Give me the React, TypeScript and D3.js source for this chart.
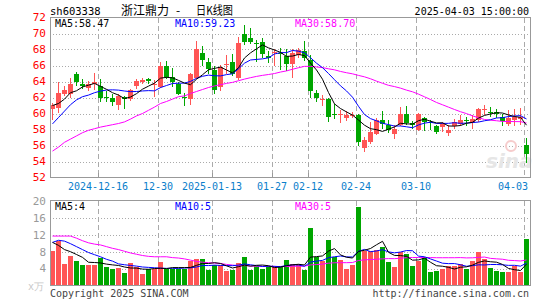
import React from 'react';
import * as d3 from 'd3';

const dates = [
  '2024-12-04','2024-12-05','2024-12-06','2024-12-09','2024-12-10','2024-12-11','2024-12-12','2024-12-13','2024-12-16','2024-12-17',
  '2024-12-18','2024-12-19','2024-12-20','2024-12-23','2024-12-24','2024-12-25','2024-12-26','2024-12-27','2024-12-30','2024-12-31',
  '2025-01-02','2025-01-03','2025-01-06','2025-01-07','2025-01-08','2025-01-09','2025-01-10','2025-01-13','2025-01-14','2025-01-15',
  '2025-01-16','2025-01-17','2025-01-20','2025-01-21','2025-01-22','2025-01-23','2025-01-24','2025-01-27','2025-02-05','2025-02-06',
  '2025-02-07','2025-02-10','2025-02-11','2025-02-12','2025-02-13','2025-02-14','2025-02-17','2025-02-18','2025-02-19','2025-02-20',
  '2025-02-21','2025-02-24','2025-02-25','2025-02-26','2025-02-27','2025-02-28','2025-03-03','2025-03-04','2025-03-05','2025-03-06',
  '2025-03-07','2025-03-10','2025-03-11','2025-03-12','2025-03-13','2025-03-14','2025-03-17','2025-03-18','2025-03-19','2025-03-20',
  '2025-03-21','2025-03-24','2025-03-25','2025-03-26','2025-03-27','2025-03-28','2025-03-31','2025-04-01','2025-04-02','2025-04-03',
];

const open = [
  60.6,60.7,62.5,62.5,64.9,63.7,63.2,63.7,63.5,62.1,
  62.0,61.1,62.1,61.8,63.5,64.0,64.3,63.6,63.3,66.0,
  64.6,63.7,62.1,61.8,64.5,67.6,66.4,65.4,63.3,66.1,
  66.5,64.5,69.9,69.4,68.8,69.0,67.2,67.6,67.6,67.2,
  66.2,67.3,67.8,66.7,62.6,61.7,61.8,60.0,59.8,59.4,
  59.7,59.8,55.7,56.5,57.4,59.2,58.6,57.4,58.6,60.0,
  58.8,57.9,59.5,59.0,58.4,58.3,57.6,58.4,58.7,59.2,
  58.8,59.2,60.5,60.2,60.2,59.6,58.7,59.2,59.3,56.1,
];
const high = [
  61.3,63.9,63.4,64.4,65.2,64.3,64.1,65.1,64.3,62.8,
  62.4,62.5,62.2,63.0,64.3,64.5,64.5,64.2,66.4,66.6,
  65.7,63.9,62.6,65.1,69.1,68.5,67.0,65.9,66.1,67.3,
  67.4,69.6,71.1,70.7,69.2,69.5,67.8,68.1,68.2,68.0,
  68.0,68.2,69.1,67.3,62.9,62.3,62.0,61.2,60.4,60.3,
  60.2,59.9,57.1,59.0,59.4,60.3,59.2,58.6,60.8,60.9,
  59.1,60.1,59.6,59.2,58.6,58.9,58.6,59.3,59.8,59.6,
  59.8,60.7,61.1,60.8,60.6,59.9,60.4,60.6,60.7,57.0,
];
const low = [
  59.2,60.1,62.2,62.0,63.5,63.1,62.8,62.9,61.4,61.4,
  61.0,60.4,60.5,61.6,63.1,63.7,63.7,62.1,63.2,64.3,
  63.3,62.3,60.9,61.1,64.3,66.0,64.9,62.5,62.8,65.0,
  64.7,64.2,68.6,68.7,66.5,67.0,66.3,66.0,65.4,65.3,
  64.4,67.0,66.6,62.0,61.5,61.0,59.0,59.3,58.8,59.1,
  59.4,55.9,55.2,56.2,57.3,58.1,57.6,56.8,58.4,58.6,
  58.1,57.8,57.8,58.0,57.5,57.7,57.2,58.1,58.4,58.5,
  58.1,59.0,59.8,59.6,59.5,58.4,58.4,58.4,58.6,53.8,
];
const close = [
  61.1,62.6,62.9,63.7,63.9,63.5,63.7,64.0,61.9,62.0,
  61.4,62.2,61.8,62.9,64.1,64.2,64.1,63.7,66.0,64.6,
  63.9,62.5,62.0,65.0,68.0,66.7,65.6,62.9,65.8,66.2,
  64.9,68.8,69.0,69.0,68.7,67.4,66.9,67.7,67.5,66.2,
  67.6,67.9,67.0,62.8,61.9,61.8,59.6,59.9,59.9,59.8,
  59.8,56.5,56.7,57.7,59.2,58.7,57.9,58.1,60.0,58.8,
  58.6,60.0,59.0,58.8,57.7,58.7,58.0,58.9,59.2,59.1,
  59.3,60.6,60.6,60.1,59.9,59.1,59.4,59.6,59.6,55.0,
];
// volume in 万手
const volume = [
  8.2,10.6,5.1,7.0,5.8,4.8,4.8,4.8,6.5,4.4,
  3.9,4.1,3.0,5.3,4.3,2.7,3.9,3.9,5.6,3.9,
  3.9,3.9,3.9,5.8,6.3,6.3,3.7,4.9,4.9,3.5,
  3.7,5.3,6.7,3.7,4.5,4.0,4.5,4.5,4.3,6.1,
  5.1,5.1,3.7,13.6,6.7,5.9,10.8,6.7,6.1,4.0,
  4.9,18.6,8.1,8.2,8.4,9.0,5.6,4.4,8.0,7.5,
  4.5,5.9,6.5,3.1,3.4,3.9,4.6,4.5,5.2,3.9,
  5.9,7.9,6.2,4.2,3.4,3.2,3.2,4.7,3.2,11.0,
];

// moving-average values at the start of the window (they depend on earlier sessions)
const ma5Head = [61.0, 61.25, 61.8, 62.6];
const ma10Head = [58.7, 59.5, 60.3, 61.1, 61.7, 62.1, 62.3, 62.6, 62.8];
const ma30Head = [55.3,55.8,56.4,56.8,57.2,57.6,57.9,58.1,58.3,58.45,58.6,58.75,58.95,59.3,59.7,60.0,60.4,60.8,61.25,61.5,61.8,62.1,62.2,62.5,62.75,63.0,63.25,63.45,63.6];
const vma5Head = [10.2, 9.5, 8.5, 8.0];
const vma10Head = [10.2, 10.7, 10.5, 9.9, 9.2, 8.5, 7.8, 7.3, 6.8];
const vma30Head = [11.7,11.7,11.7,11.7,11.2,10.6,10.1,9.8,9.6,9.2,8.8,8.5,8.1,7.7,7.4,7.1,6.9,6.8,6.8,6.8,6.6,6.5,6.3,6.0,5.7,5.5,5.4,5.3,5.2];

const priceTicks = [72, 70, 68, 66, 64, 62, 60, 58, 56, 54, 52];
const volTicks = [20, 16, 12, 8, 4];
const tickDates = ['2024-12-16','2024-12-30','2025-01-13','2025-01-27','2025-02-12','2025-02-24','2025-03-10','2025-04-03'];
const tickLabels = ['2024-12-16','12-30','2025-01-13','01-27','02-12','02-24','03-10','04-03'];
const volGridDates = ['2024-12-16','2024-12-30','2025-01-13','2025-01-27','2025-02-24','2025-03-10','2025-04-03'];

const titleCode = 'sh603338';
const titleName = '浙江鼎力';
const titleDash = '-';
const titleKind = '日K线图';
const titleTime = '2025-04-03 15:00:00';
const priceLegend = ['MA5:58.47', 'MA10:59.23', 'MA30:58.70'];
const volLegend = ['MA5:4', 'MA10:5', 'MA30:5'];

const RED = '#ff5555';
const GREEN = '#00a600';
const MONO = '"DejaVu Sans Mono", "Liberation Mono", monospace';
const CJK = '"Noto Sans CJK SC", sans-serif';

function movingAvg(vals: number[], n: number, head: number[]) {
  return vals.map((_, i) => (i < head.length ? head[i] : (d3.mean(vals.slice(i - n + 1, i + 1)) as number)));
}

export default function App() {
  const W = 545, H = 300;
  const L = 50, R = 530;
  const x = d3.scaleBand<string>().domain(dates).range([L, R]).padding(0);
  const bw = x.bandwidth() - 1;
  const y = d3.scaleLinear().domain([52, 72]).range([177.5, 17.5]);
  const yv = d3.scaleLinear().domain([0, 20]).range([285.5, 201]);

  const ma5 = movingAvg(close, 5, ma5Head);
  const ma10 = movingAvg(close, 10, ma10Head);
  const ma30 = movingAvg(close, 30, ma30Head);
  const vma5 = movingAvg(volume, 5, vma5Head);
  const vma10 = movingAvg(volume, 10, vma10Head);
  const vma30 = movingAvg(volume, 30, vma30Head);

  const cx = (i: number) => (x(dates[i]) as number) + bw / 2;
  const lineP = d3.line<number>().x((_, i) => cx(i)).y((d) => y(d));
  const lineV = d3.line<number>().x((_, i) => cx(i)).y((d) => yv(d));

  const gridX = tickDates.map((d) => Math.round(x(d) as number) + 0.5);
  const volGridX = volGridDates.map((d) => Math.round(x(d) as number) + 0.5);

  const legend = (txt: string, lx: number, ly: number, col: string, k: string) => (
    <g key={k}>
      <rect x={lx - 1} y={ly - 8} width={txt.length * 6.02 + 2} height={10} fill="#fff" />
      <text x={lx} y={ly} fontFamily={MONO} fontSize={10} fill={col}>{txt}</text>
    </g>
  );

  return (
    <svg width={W} height={H} style={{ display: 'block', position: 'absolute', left: 0, top: 0 }}>
      <rect x={0} y={0} width={W} height={H} fill="#fff" />
      {/* header */}
      <text x={50} y={15} fontFamily={MONO} fontSize={10.5} fill="#000">{titleCode}</text>
      <text x={121} y={15} fontFamily={CJK} fontSize={12} fill="#000">{titleName}</text>
      <text x={176} y={15} fontFamily={CJK} fontSize={12} fill="#000">{titleDash}</text>
      <text x={196} y={15} fontFamily={CJK} fontSize={12} fill="#000" textLength={37} lengthAdjust="spacingAndGlyphs">{titleKind}</text>
      <text x={529} y={15} textAnchor="end" fontFamily={MONO} fontSize={10} fill="#000">{titleTime}</text>

      {/* main panel grid */}
      {priceTicks.slice(1, -1).map((t) => (
        <line key={'hg' + t} x1={L} x2={R} y1={Math.round(y(t)) + 0.5} y2={Math.round(y(t)) + 0.5} stroke="#aaa" strokeDasharray="1,2" />
      ))}
      {gridX.map((gx, i) => (
        <line key={'vg' + i} x1={gx} x2={gx} y1={18} y2={177} stroke="#aaa" strokeDasharray="5,3" />
      ))}
      {/* volume panel grid */}
      {volTicks.slice(1).map((t) => (
        <line key={'vhg' + t} x1={L} x2={R} y1={Math.round(yv(t)) + 0.5} y2={Math.round(yv(t)) + 0.5} stroke="#aaa" strokeDasharray="1,2" />
      ))}
      {volGridX.map((gx, i) => (
        <line key={'vvg' + i} x1={gx} x2={gx} y1={201} y2={285} stroke="#aaa" strokeDasharray="5,3" />
      ))}

      {/* watermark */}
      <text x={486} y={168} fontFamily="Verdana, DejaVu Sans, sans-serif" fontStyle="italic" fontWeight="bold" fontSize={20} fill="#e6e6e6">sina</text>
      <circle cx={511} cy={146} r={5} fill="none" stroke="#f6cccc" strokeWidth={2} />

      {/* candles */}
      {dates.map((d, i) => {
        const up = close[i] >= open[i];
        const col = up ? RED : GREEN;
        const x0 = Math.round(x(d) as number);
        const top = Math.round(y(Math.max(open[i], close[i])));
        const bot = Math.round(y(Math.min(open[i], close[i])));
        return (
          <g key={d} shapeRendering="crispEdges">
            <rect x={x0 + 2} y={Math.round(y(high[i]))} width={1} height={Math.max(1, Math.round(y(low[i])) - Math.round(y(high[i])))} fill={col} />
            <rect x={x0} y={top} width={bw} height={Math.max(1, bot - top)} fill={col} />
          </g>
        );
      })}
      {/* MA lines */}
      <path d={lineP(ma30) as string} fill="none" stroke="#ff00ff" strokeWidth={1} />
      <path d={lineP(ma10) as string} fill="none" stroke="#0000ff" strokeWidth={1} />
      <path d={lineP(ma5) as string} fill="none" stroke="#000" strokeWidth={1} />

      {/* volume bars */}
      {dates.map((d, i) => {
        const up = close[i] >= open[i];
        const x0 = Math.round(x(d) as number);
        const top = Math.round(yv(volume[i]));
        return <rect key={'v' + d} x={x0} y={top} width={bw} height={286 - top} fill={up ? RED : GREEN} shapeRendering="crispEdges" />;
      })}
      <path d={lineV(vma30) as string} fill="none" stroke="#ff00ff" strokeWidth={1} />
      <path d={lineV(vma10) as string} fill="none" stroke="#0000ff" strokeWidth={1} />
      <path d={lineV(vma5) as string} fill="none" stroke="#000" strokeWidth={1} />

      {/* legends */}
      {legend(priceLegend[0], 55, 27, '#000', 'pl0')}
      {legend(priceLegend[1], 175, 27, '#0000ff', 'pl1')}
      {legend(priceLegend[2], 295, 27, '#ff00ff', 'pl2')}
      {legend(volLegend[0], 55, 210, '#000', 'vl0')}
      {legend(volLegend[1], 175, 210, '#0000ff', 'vl1')}
      {legend(volLegend[2], 295, 210, '#ff00ff', 'vl2')}

      {/* borders */}
      <rect x={50.5} y={17.5} width={480} height={160} fill="none" stroke="#999" />
      <rect x={50.5} y={200.5} width={480} height={85} fill="none" stroke="#999" />
      {gridX.slice(0, -1).map((gx, i) => (
        <line key={'tk' + i} x1={gx} x2={gx} y1={173} y2={177} stroke="#999" />
      ))}

      {/* price axis labels */}
      {priceTicks.map((t) => (
        <text key={'pl' + t} x={46} y={y(t)} dy="0.35em" textAnchor="end" fontFamily={MONO} fontSize={11} fill="#ff0000">{t}</text>
      ))}
      {/* volume axis labels */}
      {volTicks.map((t) => (
        <text key={'vl' + t} x={46} y={yv(t)} dy="0.35em" textAnchor="end" fontFamily={MONO} fontSize={11} fill="#999">{t}</text>
      ))}
      <text x={28} y={290} fontFamily={MONO} fontSize={10} fill="#c8c8c8">x万</text>

      {/* date labels */}
      {tickDates.map((d, i) => {
        const gx = x(d) as number;
        const half = tickLabels[i].length * 3;
        const clamp = gx + half > 528;
        return (
          <text key={'dl' + d} x={clamp ? 528 : gx} y={190} textAnchor={clamp ? 'end' : 'middle'} fontFamily={MONO} fontSize={10} fill="#0a7ecb">{tickLabels[i]}</text>
        );
      })}

      {/* footer */}
      <text x={50} y={297} fontFamily={MONO} fontSize={10} fill="#444">Copyright 2025 SINA.COM</text>
      <text x={529} y={297} textAnchor="end" fontFamily={MONO} fontSize={10} fill="#444">http://finance.sina.com.cn</text>
    </svg>
  );
}
